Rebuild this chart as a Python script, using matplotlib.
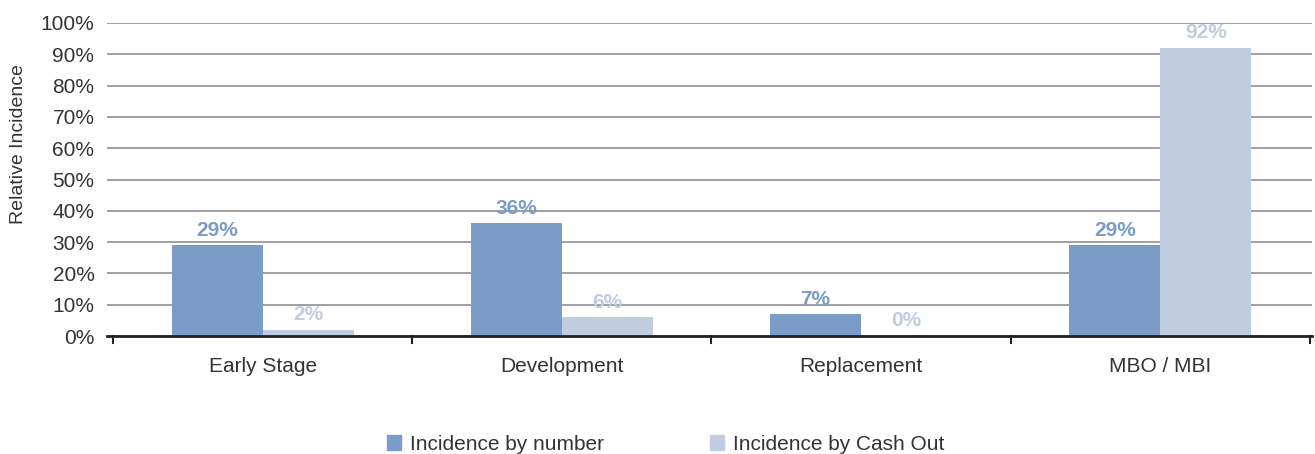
import matplotlib
matplotlib.use("Agg")
import matplotlib.pyplot as plt
import numpy as np
from matplotlib.patches import Patch

categories = ["Early Stage", "Development", "Replacement", "MBO / MBI"]
by_number = [29, 36, 7, 29]
by_cash_out = [2, 6, 0, 92]
series_names = ["Incidence by number", "Incidence by Cash Out"]
y_ticks = [0, 10, 20, 30, 40, 50, 60, 70, 80, 90, 100]

c_number = "#7A9CC6"
c_cash = "#C0CCDF"
text_c = "#333333"

plt.rcParams["font.family"] = ["Liberation Sans", "DejaVu Sans"]

fig = plt.figure(figsize=(13.15, 4.54), dpi=100)
ax = fig.add_axes([107 / 1315, 118 / 454, (1312 - 107) / 1315, (336 - 23) / 454])

x = np.arange(len(categories))
w = 0.304
b1 = ax.bar(x - w / 2, by_number, w, color=c_number, zorder=3)
b2 = ax.bar(x + w / 2, by_cash_out, w, color=c_cash, zorder=3)

for bars, vals, col in ((b1, by_number, c_number), (b2, by_cash_out, c_cash)):
    for r, v in zip(bars, vals):
        ax.annotate(f"{v}%", (r.get_x() + r.get_width() / 2, v),
                    xytext=(0, 4), textcoords="offset points",
                    ha="center", va="bottom", color=col,
                    fontsize=15, fontweight="bold", zorder=4)

ax.set_xlim(-0.52, 3.507)
ax.set_ylim(0, 100)
ax.set_yticks(y_ticks)
ax.set_yticklabels([f"{t}%" for t in y_ticks])
ax.yaxis.grid(True, color="#999999", linewidth=1.3, zorder=0)
ax.tick_params(axis="y", length=0, pad=9, labelsize=15, labelcolor=text_c)

ax.set_xticks(x)
ax.set_xticklabels(categories)
ax.tick_params(axis="x", length=0, pad=15, labelsize=15, labelcolor=text_c)
for xb in np.arange(-0.5, 4.0, 1.0):
    ax.plot([xb, xb], [0, -2.2], color="#222222", linewidth=1.5,
            clip_on=False, zorder=5)

for s in ("top", "right", "left"):
    ax.spines[s].set_visible(False)
ax.spines["bottom"].set_color("#222222")
ax.spines["bottom"].set_linewidth(2)
ax.spines["bottom"].set_zorder(5)

ax.set_ylabel("Relative Incidence", fontsize=14, color=text_c)
ax.yaxis.set_label_coords(-(107 - 27) / 1205, 0.613)

handles = [Patch(color=c_number), Patch(color=c_cash)]
fig.legend(handles, series_names, loc="center", bbox_to_anchor=(0.506, 0.022),
           ncol=2, frameon=False, fontsize=15, handlelength=0.7,
           handleheight=0.7, handletextpad=0.4, columnspacing=5.1,
           labelcolor=text_c)

fig.savefig("out.png", dpi=100)
